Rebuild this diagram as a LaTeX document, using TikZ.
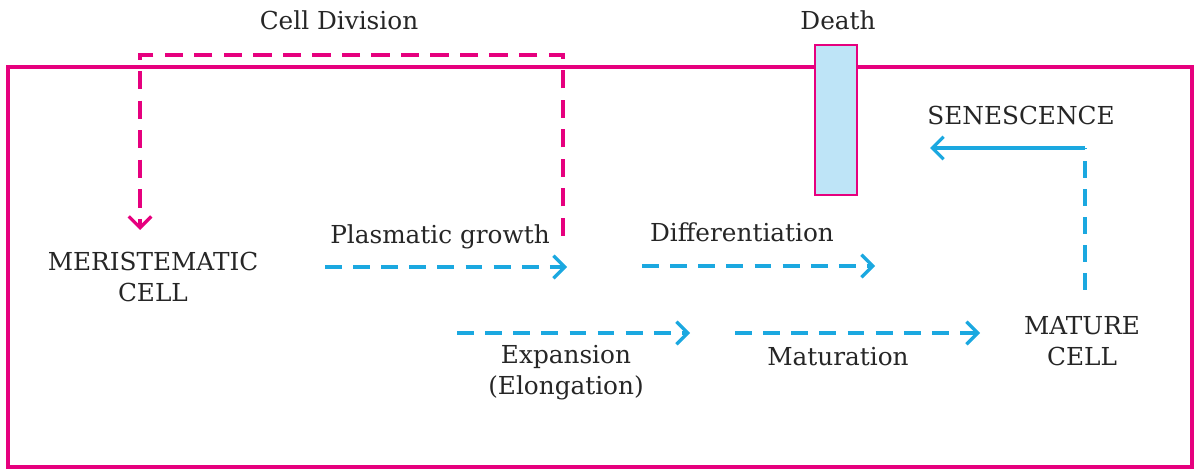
\documentclass[tikz,border=0pt]{standalone}
\usepackage{fontspec}
\setmainfont{DejaVu Serif}
\usetikzlibrary{arrows.meta}
\definecolor{mag}{RGB}{230,0,126}
\definecolor{cyanb}{RGB}{27,168,224}
\definecolor{boxfill}{RGB}{190,228,247}
\tikzset{
  lbl/.style={font=\fontsize{17.6}{22}\selectfont, text=black!85, inner sep=0pt, align=center},
  magdash/.style={draw=mag, line width=2.3pt, dash pattern=on 13pt off 8pt},
  bluedash/.style={draw=cyanb, line width=2.3pt, dash pattern=on 12pt off 8pt},
  barb/.style={-{Straight Barb[length=8pt,width=16pt,line width=2.3pt]}},
}
\begin{document}
\begin{tikzpicture}[x=0.025cm,y=-0.025cm]
\useasboundingbox (0,0) rectangle (1199,472);
% frame
\draw[mag, line width=3.2pt] (8,67) rectangle (1192,467);
% death box
\node[draw=mag, fill=boxfill, line width=1.6pt, minimum width=42*0.025cm, minimum height=150*0.025cm, inner sep=0pt] (death) at (836,120) {};
\node[lbl] (deathl) at (838,20) {Death};
% labels
\node[lbl] (celldiv) at (339,20) {Cell Division};
\node[lbl] (meri) at (153,277) {MERISTEMATIC\\CELL};
\node[lbl] (plas) at (440,237) {Plasmatic growth};
\node[lbl] (diff) at (742,232) {Differentiation};
\node[lbl] (expa) at (566,373) {Expansion\\(Elongation)};
\node[lbl] (matu) at (838,357) {Maturation};
\node[lbl] (mature) at (1082,341) {MATURE\\CELL};
\node[lbl] (sen) at (1021,115) {SENESCENCE};
% coordinates
\coordinate (cd1) at (563,236);
\coordinate (cd2) at (563,55);
\coordinate (cd3) at (140,55);
\coordinate (cd4) at (140,230);
\coordinate (p1) at (325,267); \coordinate (p2) at (567,267);
\coordinate (d1) at (642,266); \coordinate (d2) at (875,266);
\coordinate (e1) at (457,333); \coordinate (e2) at (690,333);
\coordinate (m1) at (735,333); \coordinate (m2) at (980,333);
\coordinate (s0) at (1085,290); \coordinate (s1) at (1085,148); \coordinate (s2) at (930,148);
% cell division loop
\draw[magdash, barb] (cd1) -- (cd2) -- (cd3) -- (cd4);
% blue arrows
\draw[bluedash, barb] (p1) -- (p2);
\draw[bluedash, barb] (d1) -- (d2);
\draw[bluedash, barb] (e1) -- (e2);
\draw[bluedash, barb] (m1) -- (m2);
\draw[bluedash] (s0) -- (s1);
\draw[cyanb, line width=2.3pt, barb] (s1) -- (s2);
\end{tikzpicture}
\end{document}
